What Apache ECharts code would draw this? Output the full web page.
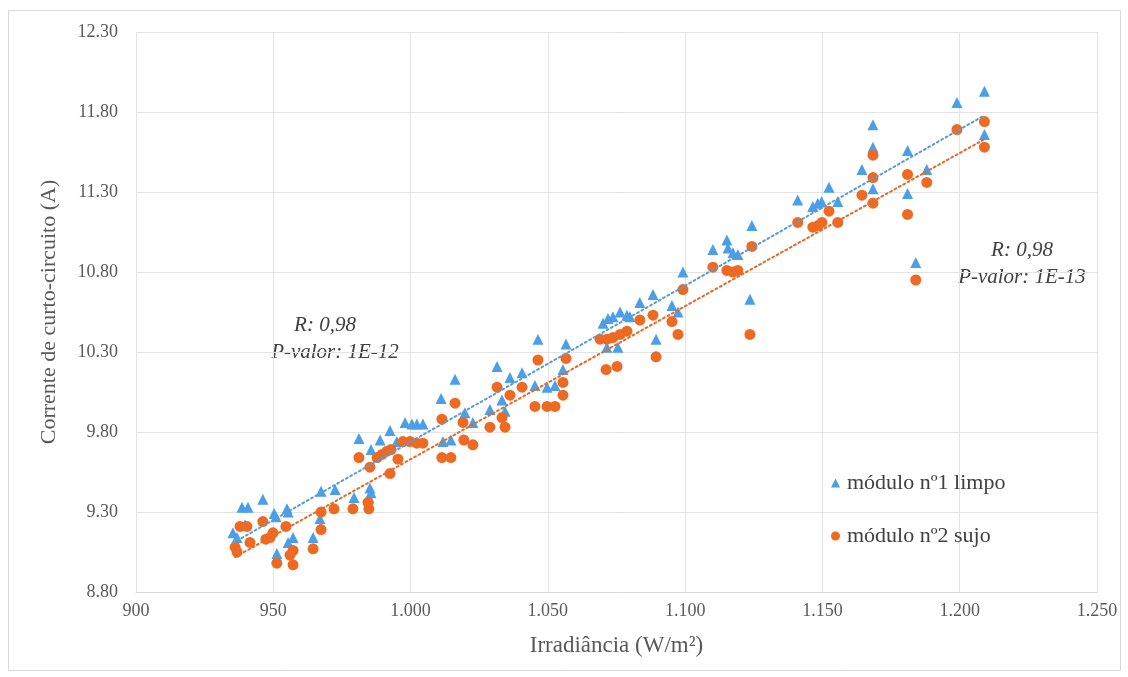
<!DOCTYPE html>
<html>
<head>
<meta charset="utf-8">
<script src="https://cdn.jsdelivr.net/npm/echarts@6/dist/echarts.min.js"></script>
<style>
  html, body { margin: 0; padding: 0; background: #ffffff; }
  #chart { width: 1128px; height: 677px; }
</style>
</head>
<body>
<div id="chart"></div>
<script>
// Irradiância (W/m²) x corrente de curto-circuito (A)
const seriesNames = ['módulo nº1 limpo', 'módulo nº2 sujo'];

const limpoPoints = [
  [1209, 11.93], [1199, 11.86], [1168.4, 11.72], [1168.4, 11.58], [1209, 11.66],
  [1181, 11.56], [1164.4, 11.44], [1188, 11.44], [1168.4, 11.32], [1181, 11.29],
  [1152.4, 11.33], [1141, 11.25], [1146.5, 11.21], [1148.3, 11.23], [1149.7, 11.24],
  [1155.6, 11.24], [1184, 10.86], [1124.3, 11.09], [1123.6, 10.63], [1110.1, 10.94],
  [1115.2, 11.00], [1115.6, 10.95], [1117.4, 10.92], [1119.2, 10.91], [1099.2, 10.80],
  [1083.5, 10.61], [1088.3, 10.66], [1095.2, 10.59], [1097.4, 10.55], [1089.4, 10.38],
  [1070.1, 10.48], [1071.9, 10.51], [1073.7, 10.52], [1076.3, 10.55], [1078.8, 10.53],
  [1079.9, 10.52], [1071.5, 10.33], [1075.5, 10.33], [1046.4, 10.38], [1056.6, 10.35],
  [1055.5, 10.19], [1031.5, 10.21], [1036.2, 10.14], [1040.6, 10.17], [1045.3, 10.09],
  [1049.7, 10.08], [1052.6, 10.09], [1016.2, 10.13], [1011.1, 10.01], [1019.8, 9.92],
  [1022.7, 9.86], [1028.9, 9.94], [1033.3, 10.00], [1034.4, 9.93], [998, 9.86],
  [1000.5, 9.85], [1002.3, 9.85], [1004.5, 9.85], [992.5, 9.81], [981.2, 9.76],
  [988.9, 9.75], [985.6, 9.69], [995, 9.74], [1011.8, 9.74], [1014.7, 9.75],
  [967.4, 9.43], [972.5, 9.44], [979.4, 9.39], [985.2, 9.45], [985.6, 9.42],
  [984.8, 9.39], [938.6, 9.33], [940.8, 9.33], [946.2, 9.38], [950.3, 9.29],
  [951, 9.27], [955, 9.32], [955.4, 9.30], [935.3, 9.17], [936.8, 9.14],
  [939.7, 9.22], [957.2, 9.14], [955.4, 9.11], [964.5, 9.14], [951.3, 9.04],
  [967, 9.26]
];

const sujoPoints = [
  [1209, 11.74], [1199, 11.69], [1168.4, 11.53], [1168.4, 11.39], [1209, 11.58],
  [1181, 11.41], [1164.4, 11.28], [1188, 11.36], [1168.4, 11.23], [1181, 11.16],
  [1152.4, 11.18], [1141, 11.11], [1146.5, 11.08], [1148.4, 11.09], [1149.8, 11.11],
  [1155.6, 11.11], [1184, 10.75], [1124.3, 10.96], [1123.6, 10.41], [1110.1, 10.83],
  [1115.2, 10.81], [1117.4, 10.80], [1119.2, 10.81], [1099.2, 10.69], [1083.5, 10.50],
  [1088.3, 10.53], [1095.2, 10.49], [1097.4, 10.41], [1089.4, 10.27], [1069, 10.38],
  [1071.5, 10.38], [1073.7, 10.39], [1076.3, 10.41], [1078.8, 10.43], [1071.2, 10.19],
  [1075.2, 10.21], [1046.4, 10.25], [1056.6, 10.26], [1055.5, 10.11], [1055.5, 10.03],
  [1031.5, 10.08], [1036.2, 10.03], [1040.6, 10.08], [1045.3, 9.96], [1049.7, 9.96],
  [1052.6, 9.96], [1016.2, 9.98], [1011.4, 9.88], [1019.1, 9.86], [1019.4, 9.75],
  [1022.7, 9.72], [1028.9, 9.83], [1034.4, 9.83], [1033.3, 9.89], [997.2, 9.74],
  [999.8, 9.74], [1002.3, 9.73], [1004.5, 9.73], [981.2, 9.64], [987.8, 9.64],
  [989.6, 9.66], [991.4, 9.68], [992.9, 9.69], [985.2, 9.58], [995.4, 9.63],
  [992.5, 9.54], [1011.4, 9.64], [1014.7, 9.64], [967.4, 9.30], [972.1, 9.32],
  [979, 9.32], [984.5, 9.36], [984.8, 9.32], [967.4, 9.19], [964.5, 9.07],
  [937.9, 9.21], [940.4, 9.21], [946.2, 9.24], [941.5, 9.11], [949.9, 9.17],
  [947.3, 9.13], [948.8, 9.14], [954.6, 9.21], [936.1, 9.08], [936.8, 9.05],
  [957.2, 9.06], [956.1, 9.03], [951.3, 8.98], [957.2, 8.97]
];

const statsLimpo = ['R: 0,98', 'P-valor: 1E-12'];
const statsSujo = ['R: 0,98', 'P-valor: 1E-13'];

const xAxisRange = [900, 1250, 50];
const yAxisRange = [8.8, 12.3, 0.5];

const BLUE = '#4a9fe8';
const ORANGE = '#ee6a22';
const FONT = '"Liberation Serif", "DejaVu Serif", serif';

// Least-squares line over the series' own x range
function trendLine(points) {
  const n = points.length;
  let sx = 0, sy = 0, sxx = 0, sxy = 0;
  let xmin = Infinity, xmax = -Infinity;
  points.forEach(([x, y]) => {
    sx += x; sy += y; sxx += x * x; sxy += x * y;
    xmin = Math.min(xmin, x); xmax = Math.max(xmax, x);
  });
  const slope = (n * sxy - sx * sy) / (n * sxx - sx * sx);
  const icpt = (sy - slope * sx) / n;
  return [[xmin, icpt + slope * xmin], [xmax, icpt + slope * xmax]];
}

function thousands(v) {
  const s = String(Math.round(v));
  return s.length > 3 ? s.slice(0, s.length - 3) + '.' + s.slice(-3) : s;
}

const chart = echarts.init(document.getElementById('chart'), null, { renderer: 'canvas' });

const textStyleStat = {
  font: 'italic 21px ' + FONT, fill: '#404040',
  textAlign: 'center', textVerticalAlign: 'middle', verticalAlign: 'middle'
};

chart.setOption({
  animation: false,
  backgroundColor: '#ffffff',
  grid: { left: 136, right: 31, top: 32, bottom: 85 },
  xAxis: {
    type: 'value',
    min: xAxisRange[0], max: xAxisRange[1], interval: xAxisRange[2],
    name: 'Irradiância (W/m²)',
    nameLocation: 'middle',
    nameGap: 42,
    nameTextStyle: { fontFamily: FONT, fontSize: 23, color: '#595959' },
    axisLine: { show: true, lineStyle: { color: '#d9d9d9', width: 1 } },
    axisTick: { show: false },
    axisLabel: { formatter: thousands, fontFamily: FONT, fontSize: 18, color: '#595959', margin: 10 },
    splitLine: { show: true, lineStyle: { color: '#e3e3e3', width: 1 } }
  },
  yAxis: {
    type: 'value',
    min: yAxisRange[0], max: yAxisRange[1], interval: yAxisRange[2],
    name: 'Corrente de curto-circuito (A)',
    nameLocation: 'middle',
    nameGap: 76,
    nameTextStyle: { fontFamily: FONT, fontSize: 22, color: '#595959' },
    axisLine: { show: true, lineStyle: { color: '#e3e3e3', width: 1 } },
    axisTick: { show: false },
    axisLabel: { formatter: v => v.toFixed(2), fontFamily: FONT, fontSize: 18, color: '#595959', margin: 18 },
    splitLine: { show: true, lineStyle: { color: '#e3e3e3', width: 1 } }
  },
  legend: {
    orient: 'vertical',
    left: 826,
    top: 467,
    itemGap: 31,
    itemWidth: 9,
    itemHeight: 9,
    data: [
      { name: seriesNames[0], icon: 'triangle' },
      { name: seriesNames[1], icon: 'circle' }
    ],
    textStyle: { fontFamily: FONT, fontSize: 22, color: '#404040', padding: [0, 0, 0, 2] }
  },
  series: [
    {
      name: seriesNames[0],
      type: 'scatter',
      symbol: 'triangle',
      symbolSize: 11,
      itemStyle: { color: BLUE, opacity: 1 },
      data: limpoPoints,
      z: 2
    },
    {
      name: seriesNames[1],
      type: 'scatter',
      symbol: 'circle',
      symbolSize: 11,
      itemStyle: { color: ORANGE, opacity: 1 },
      data: sujoPoints,
      z: 3
    },
    {
      name: 'tendência limpo',
      type: 'line',
      data: trendLine(limpoPoints),
      showSymbol: false,
      symbol: 'none',
      lineStyle: { color: '#5b9bd5', width: 2, type: [2, 3], cap: 'round' },
      silent: true,
      z: 4
    },
    {
      name: 'tendência sujo',
      type: 'line',
      data: trendLine(sujoPoints),
      showSymbol: false,
      symbol: 'none',
      lineStyle: { color: '#e4692a', width: 2, type: [2, 3], cap: 'round' },
      silent: true,
      z: 4
    }
  ],
  graphic: [
    { type: 'rect', shape: { x: 8.5, y: 10.5, width: 1112, height: 660 },
      style: { fill: 'none', stroke: '#d9d9d9', lineWidth: 1 }, silent: true, z: -1 },
    { type: 'text', x: 325, y: 325, style: Object.assign({ text: statsLimpo[0] }, textStyleStat) },
    { type: 'text', x: 335, y: 352, style: Object.assign({ text: statsLimpo[1] }, textStyleStat) },
    { type: 'text', x: 1022, y: 250, style: Object.assign({ text: statsSujo[0] }, textStyleStat) },
    { type: 'text', x: 1022, y: 277, style: Object.assign({ text: statsSujo[1] }, textStyleStat) }
  ]
});
</script>
</body>
</html>
